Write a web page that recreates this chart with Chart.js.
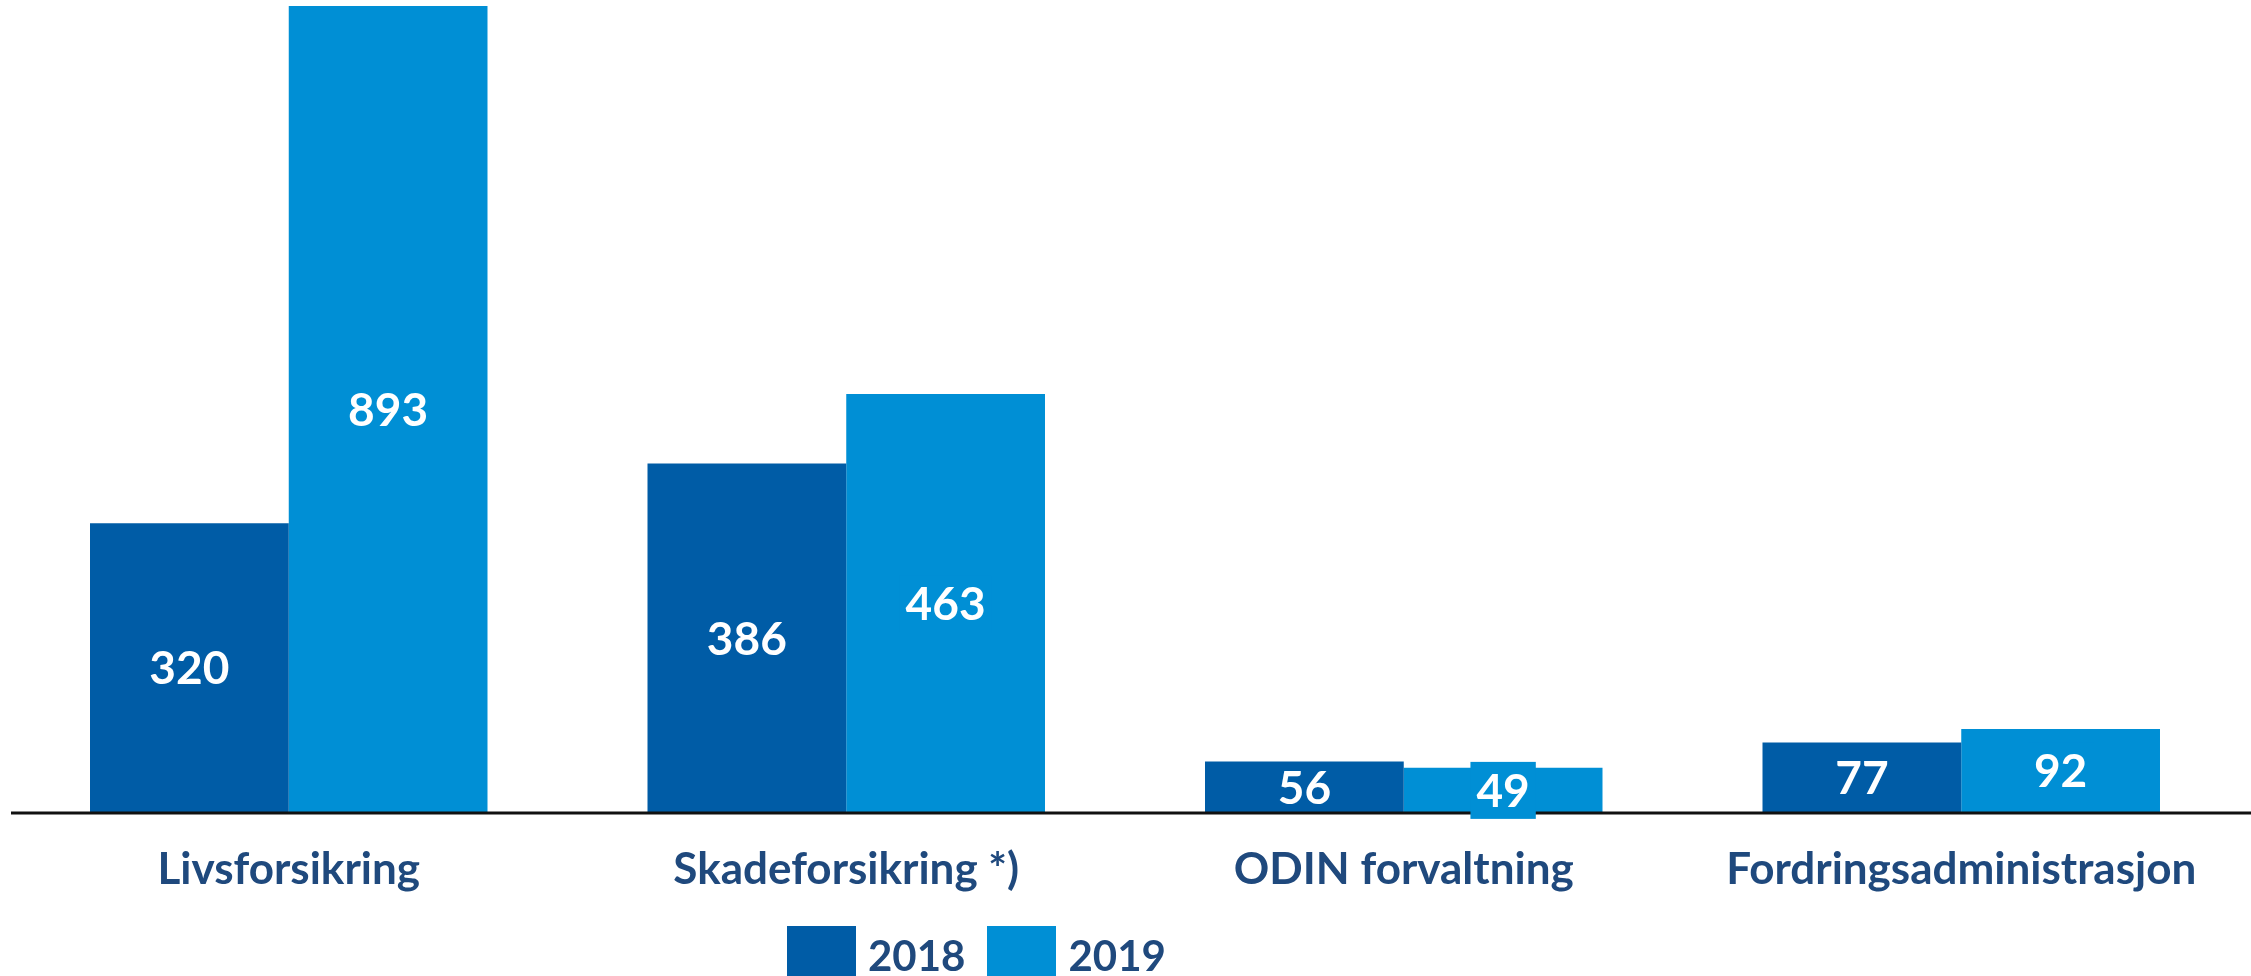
<!DOCTYPE html>
<html>
<head>
<meta charset="utf-8">
<script src="https://cdn.jsdelivr.net/npm/chart.js@4/dist/chart.umd.min.js"></script>
<style>
  html, body { margin: 0; padding: 0; background: #fff; overflow: hidden; }
  #wrap { position: relative; width: 2251px; height: 976px; }
  #legend { position: absolute; left: 787px; top: 926px; display: flex; align-items: flex-start;
    font-family: Lato, "Open Sans", sans-serif; font-weight: bold; font-size: 42px; color: #1f497d; }
  #legend .item { display: flex; align-items: flex-start; margin-right: 22px; }
  #legend .box { width: 69px; height: 60px; margin-right: 12px; }
  #legend span { line-height: 1; margin-top: 8px; }
</style>
</head>
<body>
<div id="wrap">
  <canvas id="chart" width="2251" height="976"></canvas>
  <div id="legend"></div>
</div>
<script>
const categories = ['Livsforsikring', 'Skadeforsikring *)', 'ODIN forvaltning', 'Fordringsadministrasjon'];
const seriesNames = ['2018', '2019'];
const values2018 = [320, 386, 56, 77];
const values2019 = [893, 463, 49, 92];
const colors = ['#005ca6', '#008fd5'];

const textColor = '#1f497d';
const fontFamily = 'Lato, "Open Sans", sans-serif';

// value labels centred in each bar; 2019 labels get a box in the bar colour
const valueLabels = {
  id: 'valueLabels',
  afterDatasetsDraw(chart) {
    const ctx = chart.ctx;
    ctx.save();
    ctx.font = 'bold 46px ' + fontFamily;
    ctx.textAlign = 'center';
    ctx.textBaseline = 'middle';
    chart.data.datasets.forEach((ds, i) => {
      chart.getDatasetMeta(i).data.forEach((bar, j) => {
        const y = (bar.y + bar.base) / 2;
        const txt = String(ds.data[j]);
        if (ds.labelBox) {
          const w = ctx.measureText(txt).width + 12;
          ctx.fillStyle = ds.backgroundColor;
          ctx.fillRect(bar.x - w / 2, y - 28, w, 57);
        }
        ctx.fillStyle = '#fff';
        ctx.fillText(txt, bar.x, y + 2);
      });
    });
    ctx.restore();
  }
};

// baseline runs from the left of the plot to the right edge of the picture
const baseLine = {
  id: 'baseLine',
  afterDatasetsDraw(chart) {
    const ctx = chart.ctx;
    const y = chart.scales.y.getPixelForValue(0);
    ctx.save();
    ctx.strokeStyle = '#111';
    ctx.lineWidth = 3;
    ctx.beginPath();
    ctx.moveTo(11, y + 1);
    ctx.lineTo(chart.width, y + 1);
    ctx.stroke();
    ctx.restore();
  }
};

window.addEventListener('DOMContentLoaded', () => {
  const ctx = document.getElementById('chart').getContext('2d');
  new Chart(ctx, {
    type: 'bar',
    data: {
      labels: categories,
      datasets: [
        { label: seriesNames[0], data: values2018, backgroundColor: colors[0] },
        { label: seriesNames[1], data: values2019, backgroundColor: colors[1], labelBox: true }
      ]
    },
    options: {
      responsive: false,
      animation: false,
      layout: { padding: { left: 10, right: 11, top: 6, bottom: 0 } },
      categoryPercentage: 0.713,
      barPercentage: 1,
      scales: {
        x: {
          grid: { display: false, drawTicks: false },
          border: { display: false },
          ticks: {
            color: textColor,
            padding: 31,
            font: { family: fontFamily, size: 44, weight: 'bold' }
          },
          afterFit(scale) { scale.height = 164; }
        },
        y: {
          display: false,
          min: 0,
          max: 893
        }
      },
      plugins: {
        legend: { display: false },
        tooltip: { enabled: false }
      }
    },
    plugins: [baseLine, valueLabels]
  });

  const legend = document.getElementById('legend');
  seriesNames.forEach((name, i) => {
    const item = document.createElement('div');
    item.className = 'item';
    item.innerHTML = '<div class="box" style="background:' + colors[i] + '"></div><span>' + name + '</span>';
    legend.appendChild(item);
  });
});
</script>
</body>
</html>
